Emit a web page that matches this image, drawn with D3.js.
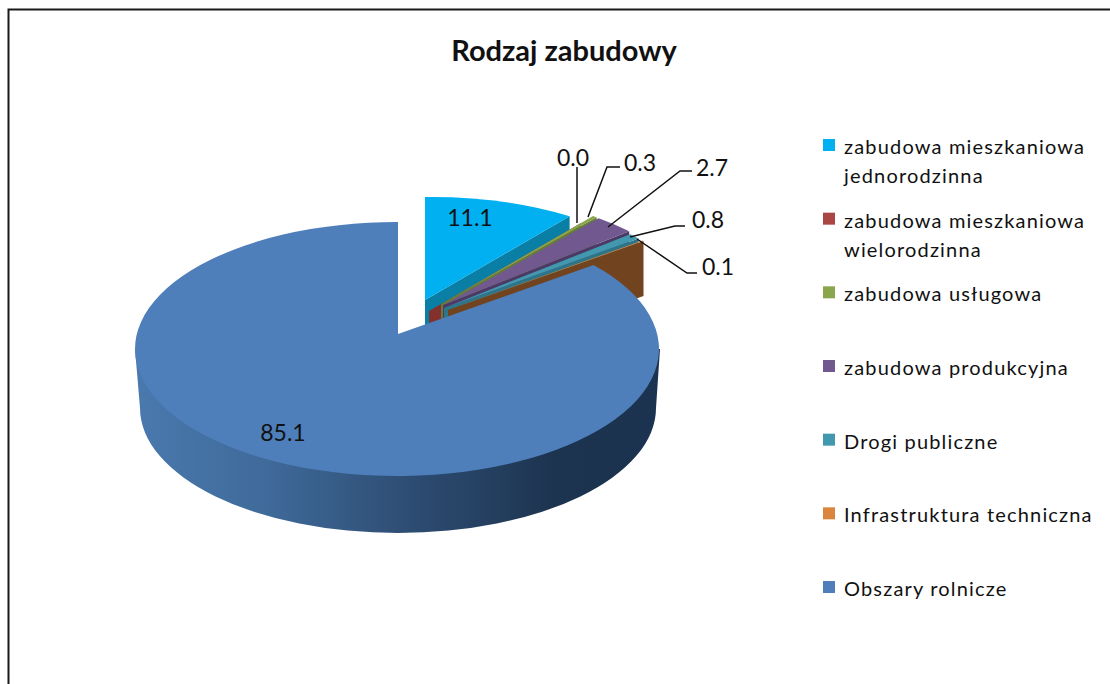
<!DOCTYPE html>
<html>
<head>
<meta charset="utf-8">
<script src="https://cdnjs.cloudflare.com/ajax/libs/d3/7.8.5/d3.min.js"></script>
<style>
  html, body { margin: 0; padding: 0; background: #fff; overflow: hidden; }
  text { font-family: Lato, "Open Sans", sans-serif; fill: #111; }
</style>
</head>
<body>
<div id="chart"></div>
<script>
// values
const categories = [
  "zabudowa mieszkaniowa jednorodzinna",
  "zabudowa mieszkaniowa wielorodzinna",
  "zabudowa usługowa",
  "zabudowa produkcyjna",
  "Drogi publiczne",
  "Infrastruktura techniczna",
  "Obszary rolnicze"
];
const values = [11.1, 0.0, 0.3, 2.7, 0.8, 0.1, 85.1];
const labels = ["11.1", "0.0", "0.3", "2.7", "0.8", "0.1", "85.1"];
const legendLines = [
  ["zabudowa mieszkaniowa", "jednorodzinna"],
  ["zabudowa mieszkaniowa", "wielorodzinna"],
  ["zabudowa usługowa"],
  ["zabudowa produkcyjna"],
  ["Drogi publiczne"],
  ["Infrastruktura techniczna"],
  ["Obszary rolnicze"]
];

const topColors = ["#00b0f0", "#aa4644", "#8aa64d", "#71588f", "#4198af", "#db843d", "#4e7fba"];
const wallColors = ["#0a7fa6", "#84302e", "#647d38", "#4c3a66", "#2d7588", "#71431f", "#2f4d73"];

let width = 1110, height = 684;

let svg = d3.select("#chart")
  .append("svg")
  .attr("width", width)
  .attr("height", height);

// frame runs off the right and bottom of the picture
svg.append("rect")
  .attr("x", 8.5)
  .attr("y", 9.5)
  .attr("width", width)
  .attr("height", height)
  .attr("fill", "#fff")
  .attr("stroke", "#1a1a1a")
  .attr("stroke-width", 2);

svg.append("text")
  .attr("x", 564)
  .attr("y", 61)
  .attr("text-anchor", "middle")
  .attr("font-size", 29)
  .attr("font-weight", 700)
  .text("Rodzaj zabudowy");

// pie geometry: tilted ellipse, the tip sits above the ellipse centre
const rx = 262, ry = 127, depth = 55;
const mainTip = { x: 398, y: 334 };
const mainCentre = { x: 397, y: 349 };

// how far each slice is pulled out, and where its own ellipse centre sits
const pulled = [
  { dx: 27, dy: -34, cx: 6, cy: 24 },
  { dx: 31, dy: -23, cx: -1, cy: 15 },
  { dx: 43, dy: -30, cx: -1, cy: 15 },
  { dx: 45, dy: -29, cx: -1, cy: 15 },
  { dx: 46, dy: -26, cx: -1, cy: 15 },
  { dx: 50, dy: -24, cx: -1, cy: 15 },
  { dx: 0, dy: 0, cx: -1, cy: 15 }
];

const pie = d3.pie().sort(null).value(d => d);
const slices = pie(values);

// where a ray from the tip at pie angle a meets the ellipse
function rim(tip, centre, a) {
  const ux = rx * Math.sin(a), uy = -ry * Math.cos(a);
  const ox = (tip.x - centre.x) / rx, oy = (tip.y - centre.y) / ry;
  const px = ux / rx, py = uy / ry;
  const A = px * px + py * py, B = 2 * (ox * px + oy * py), C = ox * ox + oy * oy - 1;
  const t = (-B + Math.sqrt(B * B - 4 * A * C)) / (2 * A);
  return { x: tip.x + t * ux, y: tip.y + t * uy };
}

let defs = svg.append("defs");
let grad = defs.append("linearGradient")
  .attr("id", "sideGrad")
  .attr("gradientUnits", "userSpaceOnUse")
  .attr("x1", 135).attr("x2", 660).attr("y1", 0).attr("y2", 0);
[[0, "#4a79ae"], [0.25, "#3f6a9a"], [0.55, "#2c4a6f"], [0.8, "#1d3450"], [1, "#1b3250"]].forEach(s => {
  grad.append("stop").attr("offset", s[0]).attr("stop-color", s[1]);
});

// back slices first, each one covers the wall of the one before
slices.slice(0, 6).forEach((s, i) => {
  const p = pulled[i];
  const tip = { x: mainTip.x + p.dx, y: mainTip.y + p.dy };
  const centre = { x: tip.x + p.cx, y: tip.y + p.cy };
  const r0 = rim(tip, centre, s.startAngle);
  const r1 = rim(tip, centre, s.endAngle);

  svg.append("path")
    .attr("d", `M${tip.x},${tip.y}L${r1.x},${r1.y}L${r1.x},${r1.y + depth}L${tip.x},${tip.y + depth}Z`)
    .attr("fill", wallColors[i]);

  svg.append("path")
    .attr("d", `M${tip.x},${tip.y}L${r0.x},${r0.y}A${rx},${ry} 0 0 1 ${r1.x},${r1.y}Z`)
    .attr("fill", topColors[i]);
});

// big slice: side band, then the top face
svg.append("path")
  .attr("d", `M135,349L140,408A258,125 0 0 0 656,408L660,349Z`)
  .attr("fill", "url(#sideGrad)");

const main = slices[6];
const mainStart = rim(mainTip, mainCentre, main.startAngle);
const mainEnd = rim(mainTip, mainCentre, main.endAngle);
svg.append("path")
  .attr("d", `M${mainTip.x},${mainTip.y}L${mainStart.x},${mainStart.y}A${rx},${ry} 0 1 1 ${mainEnd.x},${mainEnd.y}Z`)
  .attr("fill", topColors[6]);

// data labels
const labelPos = [
  { x: 470, y: 226 }, { x: 573, y: 166 }, { x: 640, y: 171 }, { x: 712, y: 176 },
  { x: 708, y: 228 }, { x: 718, y: 275 }, { x: 283, y: 441 }
];
labels.forEach((t, i) => {
  svg.append("text")
    .attr("x", labelPos[i].x)
    .attr("y", labelPos[i].y)
    .attr("text-anchor", "middle")
    .attr("font-size", 23)
    .text(t);
});

// leader lines
const leaders = [
  [[577, 167], [577, 223]],
  [[620, 167], [607, 167], [588, 217]],
  [[692, 171], [680, 171], [608, 227]],
  [[685, 226], [675, 226], [630, 237]],
  [[697, 273], [687, 273], [637, 239]]
];
leaders.forEach(l => {
  svg.append("path")
    .attr("d", d3.line()(l))
    .attr("fill", "none")
    .attr("stroke", "#111")
    .attr("stroke-width", 1.5);
});

// legend
const legendY = d3.scalePoint()
  .domain(categories)
  .range([145, 587]);

categories.forEach((c, i) => {
  const y = legendY(c);
  svg.append("rect")
    .attr("x", 823)
    .attr("y", y - 6)
    .attr("width", 12)
    .attr("height", 12)
    .attr("fill", topColors[i]);
  legendLines[i].forEach((line, j) => {
    svg.append("text")
      .attr("x", 844)
      .attr("y", y + 9 + j * 29)
      .attr("font-size", 20)
      .attr("letter-spacing", 1.17)
      .text(line);
  });
});
</script>
</body>
</html>
